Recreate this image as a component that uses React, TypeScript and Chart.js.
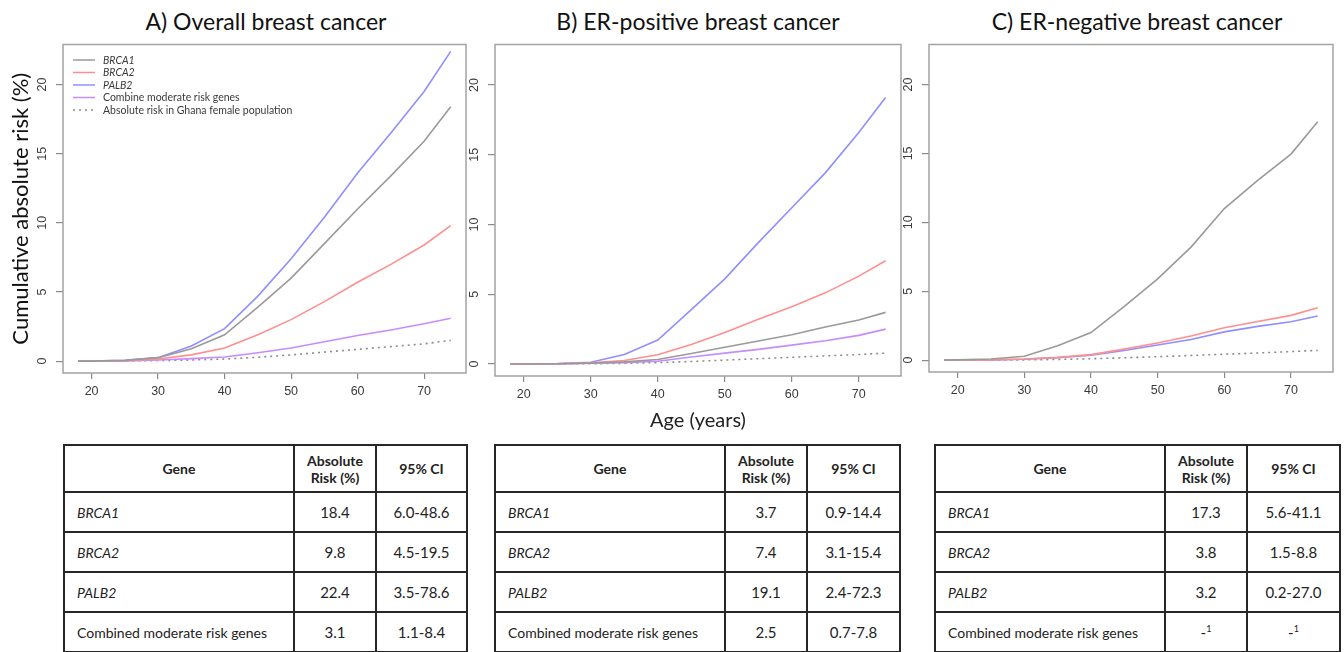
import React, { useEffect, useRef } from "react";
import { Chart, registerables } from "chart.js";

Chart.register(...registerables);

// ---------------- data ----------------
const AGES = [18, 20, 25, 30, 35, 40, 45, 50, 55, 60, 65, 70, 74];
const X_TICKS = [20, 30, 40, 50, 60, 70];
const Y_TICKS = [0, 5, 10, 15, 20];

const LABEL_BRCA1 = "BRCA1";
const LABEL_BRCA2 = "BRCA2";
const LABEL_PALB2 = "PALB2";
const LABEL_COMBINED = "Combine moderate risk genes";
const LABEL_GHANA = "Absolute risk in Ghana female population";

// A) Overall breast cancer
const A_BRCA1 = [0, 0, 0.05, 0.25, 0.9, 1.9, 3.9, 6.0, 8.5, 11.0, 13.4, 15.9, 18.4];
const A_BRCA2 = [0, 0, 0.03, 0.15, 0.45, 0.95, 1.9, 3.0, 4.3, 5.7, 7.0, 8.4, 9.8];
const A_PALB2 = [0, 0, 0.05, 0.25, 1.1, 2.35, 4.7, 7.4, 10.4, 13.6, 16.5, 19.5, 22.4];
const A_COMBINED = [0, 0, 0.02, 0.08, 0.18, 0.3, 0.6, 0.95, 1.4, 1.85, 2.25, 2.7, 3.1];
const A_GHANA = [0, 0, 0.01, 0.04, 0.08, 0.15, 0.28, 0.45, 0.65, 0.85, 1.05, 1.25, 1.5];

// B) ER-positive breast cancer
const B_BRCA1 = [0, 0, 0.02, 0.06, 0.15, 0.32, 0.75, 1.2, 1.65, 2.1, 2.65, 3.15, 3.7];
const B_BRCA2 = [0, 0, 0.02, 0.08, 0.25, 0.66, 1.4, 2.25, 3.2, 4.1, 5.1, 6.3, 7.4];
const B_PALB2 = [0, 0, 0.03, 0.12, 0.68, 1.72, 3.9, 6.1, 8.7, 11.2, 13.7, 16.6, 19.1];
const B_COMBINED = [0, 0, 0.01, 0.05, 0.1, 0.2, 0.5, 0.78, 1.05, 1.35, 1.67, 2.05, 2.5];
const B_GHANA = [0, 0, 0.01, 0.02, 0.05, 0.1, 0.18, 0.28, 0.38, 0.48, 0.58, 0.68, 0.78];

// C) ER-negative breast cancer
const C_BRCA1 = [0, 0.02, 0.08, 0.28, 1.05, 2.0, 3.9, 5.9, 8.2, 11.0, 13.05, 14.95, 17.3];
const C_BRCA2 = [0, 0, 0.02, 0.08, 0.2, 0.4, 0.8, 1.25, 1.75, 2.35, 2.8, 3.25, 3.8];
const C_PALB2 = [0, 0, 0.02, 0.07, 0.18, 0.35, 0.7, 1.1, 1.5, 2.05, 2.45, 2.78, 3.2];
const C_GHANA = [0, 0, 0.01, 0.02, 0.05, 0.1, 0.17, 0.25, 0.34, 0.43, 0.52, 0.62, 0.71];

// tables
const TABLE_GENES = ["BRCA1", "BRCA2", "PALB2", "Combined moderate risk genes"];
const A_RISK = ["18.4", "9.8", "22.4", "3.1"];
const A_CI = ["6.0-48.6", "4.5-19.5", "3.5-78.6", "1.1-8.4"];
const B_RISK = ["3.7", "7.4", "19.1", "2.5"];
const B_CI = ["0.9-14.4", "3.1-15.4", "2.4-72.3", "0.7-7.8"];
const C_RISK = ["17.3", "3.8", "3.2", ""];
const C_CI = ["5.6-41.1", "1.5-8.8", "0.2-27.0", ""];

// ---------------- style ----------------
const FONT = "Lato, 'Open Sans', sans-serif";
const TICK_FONT = "'Liberation Sans', Arial, sans-serif";
const GRAY = "#9a9a9a";
const RED = "#ff8f8f";
const BLUE = "#8f8fff";
const PURPLE = "#c68cff";
const DOT = "#8c8c8c";
const X_MIN = 15.7;
const X_MAX = 76.3;
const Y_MIN = -0.86;
const Y_MAX = 22.9;

type Series = { label: string; values: number[]; color: string; dash?: number[]; italic?: boolean };

const boxPlugin = {
  id: "rbox",
  afterDatasetsDraw(chart: any) {
    const { ctx, chartArea } = chart;
    ctx.save();
    ctx.strokeStyle = "#a3a3a3";
    ctx.lineWidth = 1.5;
    ctx.strokeRect(chartArea.left, chartArea.top, chartArea.right - chartArea.left, chartArea.bottom - chartArea.top);
    ctx.restore();
  },
};

const legendPlugin = {
  id: "insideLegend",
  afterDraw(chart: any, _args: any, opts: any) {
    if (!opts || !opts.display) return;
    const { ctx, chartArea } = chart;
    ctx.save();
    chart.data.datasets.forEach((ds: any, i: number) => {
      const y = chartArea.top + 15.5 + i * 12.5;
      ctx.beginPath();
      ctx.strokeStyle = ds.borderColor;
      ctx.lineWidth = 1.5;
      ctx.setLineDash(ds.borderDash || []);
      ctx.moveTo(chartArea.left + 10, y);
      ctx.lineTo(chartArea.left + 32, y);
      ctx.stroke();
      ctx.setLineDash([]);
      ctx.fillStyle = "#3a3a3a";
      ctx.font = `${ds.italicLabel ? "italic " : ""}10.5px ${FONT}`;
      ctx.textBaseline = "middle";
      ctx.textAlign = "left";
      ctx.fillText(ds.label, chartArea.left + 40, y + 0.5);
    });
    ctx.restore();
  },
};

type PanelProps = {
  left: number;
  top: number;
  width: number;
  height: number;
  yWidth: number;
  xHeight: number;
  padTop: number;
  padRight: number;
  series: Series[];
  yTitle?: string;
  xTitle?: string;
  legend?: boolean;
};

function RiskChart(p: PanelProps) {
  const ref = useRef<HTMLCanvasElement>(null);
  useEffect(() => {
    const chart = new Chart(ref.current as HTMLCanvasElement, {
      type: "line",
      data: {
        datasets: p.series.map((s) => ({
          label: s.label,
          data: AGES.map((a, i) => ({ x: a, y: s.values[i] })),
          borderColor: s.color,
          borderWidth: 1.6,
          borderDash: s.dash || [],
          pointRadius: 0,
          tension: 0,
          fill: false,
          italicLabel: !!s.italic,
        })) as any,
      },
      options: {
        animation: false,
        responsive: false,
        maintainAspectRatio: false,
        layout: { padding: { top: p.padTop, right: p.padRight, left: 0, bottom: 0 } },
        plugins: {
          legend: { display: false },
          tooltip: { enabled: false },
          insideLegend: { display: !!p.legend },
        } as any,
        scales: {
          x: {
            type: "linear",
            min: X_MIN,
            max: X_MAX,
            afterBuildTicks: (s: any) => {
              s.ticks = X_TICKS.map((v) => ({ value: v }));
            },
            afterFit: (s: any) => {
              s.height = p.xHeight;
            },
            border: { display: false },
            grid: { display: true, drawOnChartArea: false, drawTicks: true, tickLength: 6, color: "#8a8a8a", lineWidth: 1.2 },
            ticks: {
              autoSkip: false,
              maxRotation: 0,
              minRotation: 0,
              padding: 5,
              color: "#3a3a3a",
              font: { family: TICK_FONT, size: 12.5 },
            },
            title: {
              display: !!p.xTitle,
              text: p.xTitle || "",
              color: "#222",
              font: { family: FONT, size: 20 },
              padding: { top: 0, bottom: 7 },
            },
          },
          y: {
            type: "linear",
            min: Y_MIN,
            max: Y_MAX,
            afterBuildTicks: (s: any) => {
              s.ticks = Y_TICKS.map((v) => ({ value: v }));
            },
            afterFit: (s: any) => {
              s.width = p.yWidth;
            },
            border: { display: false },
            grid: { display: true, drawOnChartArea: false, drawTicks: true, tickLength: 7, color: "#8a8a8a", lineWidth: 1.2 },
            ticks: {
              autoSkip: false,
              minRotation: 90,
              maxRotation: 90,
              crossAlign: "center",
              padding: 7,
              color: "#3a3a3a",
              font: { family: TICK_FONT, size: 12.5 },
            },
            title: {
              display: !!p.yTitle,
              text: p.yTitle || "",
              color: "#111",
              font: { family: FONT, size: 22 },
              padding: { top: 8, bottom: 0 },
            },
          },
        } as any,
      },
      plugins: [boxPlugin, legendPlugin],
    });
    return () => chart.destroy();
  }, []);
  return (
    <canvas
      ref={ref}
      width={p.width}
      height={p.height}
      style={{ position: "absolute", left: p.left, top: p.top, width: p.width, height: p.height }}
    />
  );
}

function RiskTable({ left, width, risk, ci }: { left: number; width: number; risk: string[]; ci: string[] }) {
  const b = "2px solid #262626";
  const cell: React.CSSProperties = { border: b, padding: 0, fontFamily: FONT, fontSize: 14, color: "#222" };
  return (
    <table
      style={{
        position: "absolute",
        left,
        top: 444,
        width,
        borderCollapse: "collapse",
        tableLayout: "fixed",
      }}
    >
      <colgroup>
        <col style={{ width: 230 }} />
        <col style={{ width: 82 }} />
        <col />
      </colgroup>
      <thead>
        <tr style={{ height: 47 }}>
          <th style={{ ...cell, fontWeight: 700, fontSize: 14 }}>Gene</th>
          <th style={{ ...cell, fontWeight: 700, fontSize: 14, lineHeight: "17px" }}>
            Absolute
            <br />
            Risk (%)
          </th>
          <th style={{ ...cell, fontWeight: 700, fontSize: 14 }}>95% CI</th>
        </tr>
      </thead>
      <tbody>
        {TABLE_GENES.map((g, i) => (
          <tr key={g} style={{ height: 40 }}>
            <td style={{ ...cell, paddingLeft: 12, fontStyle: i < 3 ? "italic" : "normal", fontSize: 14 }}>{g}</td>
            <td style={{ ...cell, textAlign: "center", fontSize: 15 }}>
              {risk[i] !== "" ? risk[i] : (<span>-<sup style={{ fontSize: 9 }}>1</sup></span>)}
            </td>
            <td style={{ ...cell, textAlign: "center", fontSize: 15 }}>
              {ci[i] !== "" ? ci[i] : (<span>-<sup style={{ fontSize: 9 }}>1</sup></span>)}
            </td>
          </tr>
        ))}
      </tbody>
    </table>
  );
}

const TITLE_STYLE: React.CSSProperties = {
  position: "absolute",
  top: 7,
  transform: "translateX(-50%)",
  whiteSpace: "nowrap",
  fontFamily: FONT,
  fontSize: 23,
  lineHeight: "28px",
  color: "#111",
};

export default function App() {
  const seriesA: Series[] = [
    { label: LABEL_BRCA1, values: A_BRCA1, color: GRAY, italic: true },
    { label: LABEL_BRCA2, values: A_BRCA2, color: RED, italic: true },
    { label: LABEL_PALB2, values: A_PALB2, color: BLUE, italic: true },
    { label: LABEL_COMBINED, values: A_COMBINED, color: PURPLE },
    { label: LABEL_GHANA, values: A_GHANA, color: DOT, dash: [2, 4] },
  ];
  const seriesB: Series[] = [
    { label: LABEL_BRCA1, values: B_BRCA1, color: GRAY, italic: true },
    { label: LABEL_BRCA2, values: B_BRCA2, color: RED, italic: true },
    { label: LABEL_PALB2, values: B_PALB2, color: BLUE, italic: true },
    { label: LABEL_COMBINED, values: B_COMBINED, color: PURPLE },
    { label: LABEL_GHANA, values: B_GHANA, color: DOT, dash: [2, 4] },
  ];
  const seriesC: Series[] = [
    { label: LABEL_BRCA1, values: C_BRCA1, color: GRAY, italic: true },
    { label: LABEL_BRCA2, values: C_BRCA2, color: RED, italic: true },
    { label: LABEL_PALB2, values: C_PALB2, color: BLUE, italic: true },
    { label: LABEL_GHANA, values: C_GHANA, color: DOT, dash: [2, 4] },
  ];
  return (
    <div
      style={{
        position: "absolute",
        left: 0,
        top: 0,
        width: 1344,
        height: 652,
        overflow: "hidden",
        background: "#fff",
      }}
    >
      <div style={{ ...TITLE_STYLE, left: 266 }}>A) Overall breast cancer</div>
      <div style={{ ...TITLE_STYLE, left: 698 }}>B) ER-positive breast cancer</div>
      <div style={{ ...TITLE_STYLE, left: 1137 }}>C) ER-negative breast cancer</div>

      <RiskChart left={0} top={30} width={470} height={410} yWidth={63} xHeight={67} padTop={8} padRight={4}
        series={seriesA} yTitle="Cumulative absolute risk (%)" legend />
      <RiskChart left={460} top={30} width={446} height={410} yWidth={35} xHeight={64} padTop={9} padRight={5}
        series={seriesB} xTitle="Age (years)" />
      <RiskChart left={900} top={30} width={444} height={410} yWidth={29} xHeight={68} padTop={8} padRight={11}
        series={seriesC} />

      <RiskTable left={63} width={405} risk={A_RISK} ci={A_CI} />
      <RiskTable left={494} width={407} risk={B_RISK} ci={B_CI} />
      <RiskTable left={934} width={407} risk={C_RISK} ci={C_CI} />
    </div>
  );
}
